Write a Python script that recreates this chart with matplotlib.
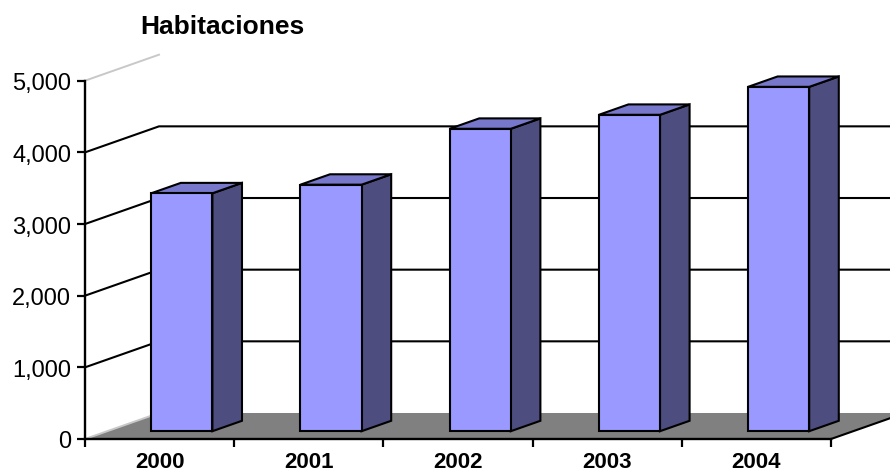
import matplotlib.pyplot as plt
from matplotlib.patches import Polygon

plt.rcParams['font.family'] = ['Liberation Sans', 'DejaVu Sans']

years = ['2000', '2001', '2002', '2003', '2004']
habitaciones = [3320, 3440, 4220, 4415, 4805]
y_ticks = [0, 1000, 2000, 3000, 4000, 5000]

# depth of the 3D box: horizontal shift in category units, vertical in value units
depth_x = 0.496
depth_y = 363
bar_width = 0.41
bar_front, bar_back = 0.3, 0.7

front_col = '#9999FF'
top_col = '#7777CC'
side_col = '#4D4D80'
floor_col = '#808080'


def proj(x, y, d):
    return (x + d * depth_x, y + d * depth_y)


fig = plt.figure(figsize=(8.9, 4.77), dpi=100)
ax = fig.add_axes([85 / 890, 37 / 477, 746 / 890, 358.3 / 477])
n = len(years)
ax.set_xlim(0, n)
ax.set_ylim(0, y_ticks[-1])

# floor
floor = Polygon([proj(0, 0, 0), proj(n, 0, 0), proj(n, 0, 1), proj(0, 0, 1)],
                closed=True, facecolor=floor_col, edgecolor='none', clip_on=False, zorder=1)
ax.add_patch(floor)
ax.plot(*zip(proj(n, 0, 0), proj(n, 0, 1)), color='black', lw=1.5, clip_on=False, zorder=2)
ax.plot(*zip(proj(0, 0, 0), proj(0, 0, 1)), color='#C8C8C8', lw=1.4, clip_on=False, zorder=2)

# gridlines: diagonal on the side wall, then across the back wall
for v in y_ticks[1:-1]:
    ax.plot(*zip(proj(0, v, 0), proj(0, v, 1), proj(n + 0.2, v, 1)),
            color='black', lw=1.5, clip_on=False, zorder=1)
ax.plot(*zip(proj(0, y_ticks[-1], 0), proj(0, y_ticks[-1], 1)),
        color='#C8C8C8', lw=1.4, clip_on=False, zorder=1)

# bars as boxes: front, top and right side faces
for i, v in enumerate(habitaciones):
    x0 = i + 0.5 - bar_width / 2
    x1 = i + 0.5 + bar_width / 2
    front = [proj(x0, 0, bar_front), proj(x1, 0, bar_front),
             proj(x1, v, bar_front), proj(x0, v, bar_front)]
    top = [proj(x0, v, bar_front), proj(x1, v, bar_front),
           proj(x1, v, bar_back), proj(x0, v, bar_back)]
    side = [proj(x1, 0, bar_front), proj(x1, 0, bar_back),
            proj(x1, v, bar_back), proj(x1, v, bar_front)]
    for pts, col in [(side, side_col), (top, top_col), (front, front_col)]:
        ax.add_patch(Polygon(pts, closed=True, facecolor=col, edgecolor='black',
                             lw=1.5, joinstyle='miter', clip_on=False, zorder=3))

for s in ['top', 'right']:
    ax.spines[s].set_visible(False)
for s in ['left', 'bottom']:
    ax.spines[s].set_linewidth(1.7)
    ax.spines[s].set_zorder(4)
ax.patch.set_visible(False)

ax.set_yticks(y_ticks)
ax.set_yticklabels([f'{v:,}' for v in y_ticks], fontsize=17)
ax.tick_params(axis='y', direction='out', length=6, width=1.6, pad=4)

ax.set_xticks(range(n + 1))
ax.set_xticklabels([''] * (n + 1))
ax.set_xticks([i + 0.5 for i in range(n)], minor=True)
ax.set_xticklabels(years, minor=True, fontsize=16, fontweight='bold')
ax.tick_params(axis='x', which='minor', length=0, pad=9)
ax.tick_params(axis='x', which='major', direction='out', length=6, width=1.6)

fig.text(140 / 890, 1 - 27 / 477, 'Habitaciones', fontsize=19, fontweight='bold',
         ha='left', va='center')

fig.savefig('out.png', dpi=100)
